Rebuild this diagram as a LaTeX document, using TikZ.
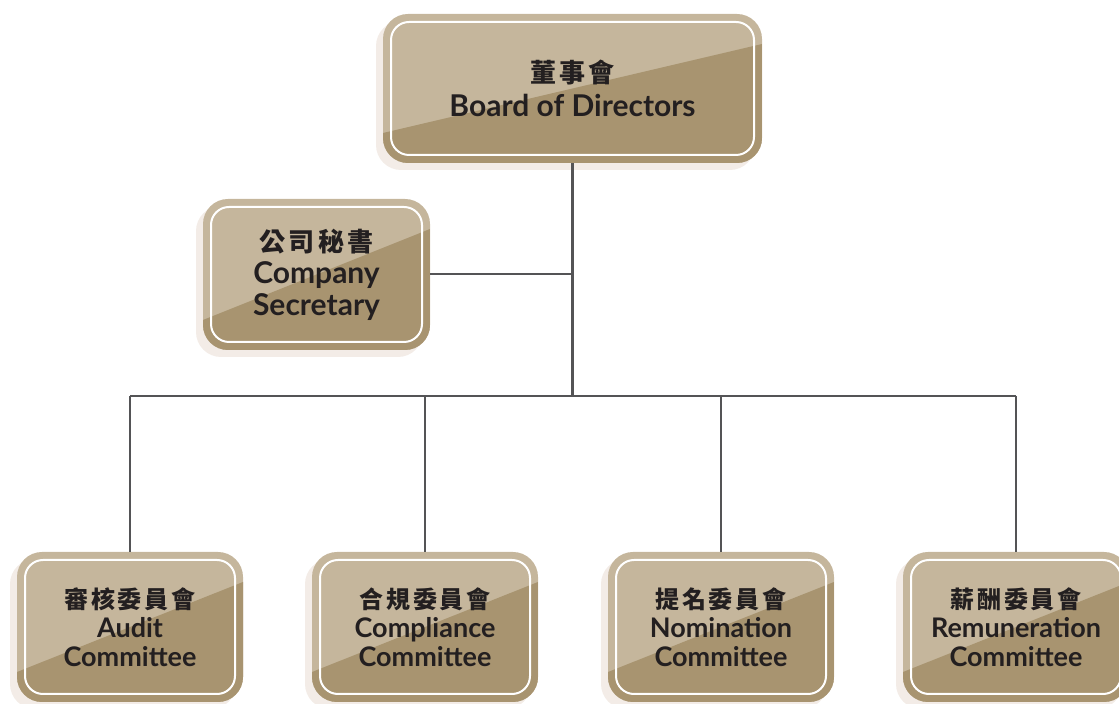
\documentclass[tikz,border=0pt]{standalone}
\usepackage{fontspec}
\setmainfont{Lato}
\newfontfamily\cjk{Noto Sans CJK TC}[LetterSpace=12]
\usetikzlibrary{shadows}

\definecolor{boxlight}{RGB}{197,182,156}
\definecolor{boxdark}{RGB}{168,148,112}
\definecolor{boxshadow}{RGB}{243,236,231}
\definecolor{linkgray}{RGB}{84,84,86}
\definecolor{labeltext}{RGB}{35,31,32}

\newcommand{\boxround}{12.5pt}
\newcommand{\diagcut}{15pt}

\tikzset{
	orgbox/.style={
		rounded corners=\boxround, fill=boxlight, text=labeltext, align=center,
		minimum width=113pt, minimum height=75pt, inner sep=0pt,
		drop shadow={shadow xshift=-3.5pt, shadow yshift=-3.5pt, fill=boxshadow, opacity=1},
		path picture={
			% dark lower half
			\fill[boxdark, sharp corners] (path picture bounding box.south west)
				-- ([yshift=\diagcut]path picture bounding box.south west)
				-- ([yshift=-\diagcut]path picture bounding box.north east)
				-- (path picture bounding box.south east) -- cycle;
			% white inner line
			\draw[white, line width=1pt, rounded corners=9pt]
				([shift={(4pt,4pt)}]path picture bounding box.south west)
				rectangle ([shift={(-4pt,-4pt)}]path picture bounding box.north east);
		}},
	bigtext/.style={font=\bfseries\fontsize{15}{16}\selectfont},
	smalltext/.style={font=\bfseries\fontsize{13.5}{14.5}\selectfont},
	mainlink/.style={draw=linkgray, line width=1.5pt},
	sublink/.style={draw=linkgray, line width=1pt},
}

\begin{document}
\begin{tikzpicture}[x=0.5pt, y=-0.5pt]
	\useasboundingbox (0,0) rectangle (1119,704);
	% Board and secretary
	\node [orgbox, bigtext, minimum width=189.5pt, minimum height=74.5pt] (board) at (572.5, 88.5)
		{{\cjk\bfseries\fontsize{13}{16}\selectfont 董事會}\\[1pt]Board of Directors};
	\node [orgbox, bigtext, minimum width=113.5pt, minimum height=75.5pt] (secretary) at (316.5, 274.5)
		{{\cjk\bfseries\fontsize{13}{16}\selectfont 公司秘書}\\Company\\Secretary};
	% Committees
	\node [orgbox, smalltext] (audit) at (130, 627)
		{{\cjk\bfseries\fontsize{12}{14.5}\selectfont 審核委員會}\\Audit\\Committee};
	\node [orgbox, smalltext] (compliance) at (425, 627)
		{{\cjk\bfseries\fontsize{12}{14.5}\selectfont 合規委員會}\\Compliance\\Committee};
	\node [orgbox, smalltext] (nomination) at (721, 627)
		{{\cjk\bfseries\fontsize{12}{14.5}\selectfont 提名委員會}\\Nomination\\Committee};
	\node [orgbox, smalltext] (remuneration) at (1016, 627)
		{{\cjk\bfseries\fontsize{12}{14.5}\selectfont 薪酬委員會}\\Remuneration\\Committee};
	% Links
	\coordinate (hub) at (573.5, 396);
	\draw [mainlink] (board.south) -- (board.south |- hub);
	\draw [sublink] (secretary.east) -- (secretary.east -| board.south);
	\draw [sublink] (audit.north |- hub) -- (remuneration.north |- hub);
	\foreach \unit in {audit, compliance, nomination, remuneration}
		\draw [sublink, line width=0.75pt] (\unit.north |- hub) -- (\unit.north);
\end{tikzpicture}
\end{document}
